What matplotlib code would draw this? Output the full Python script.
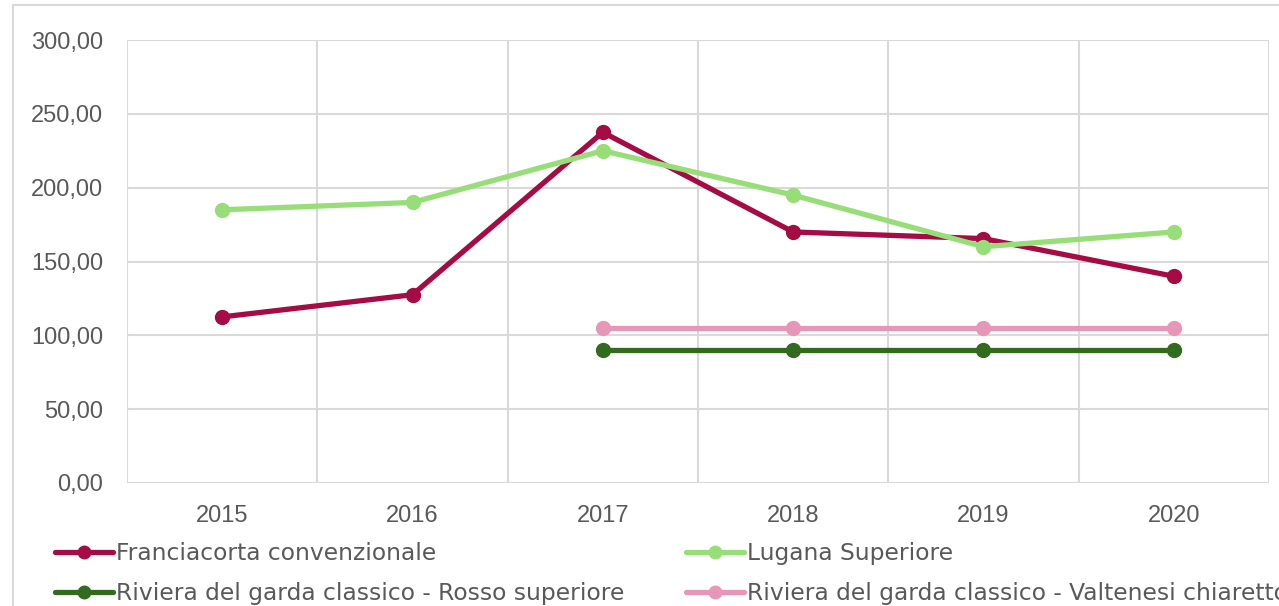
import numpy as np
import matplotlib
matplotlib.use("Agg")
import matplotlib.pyplot as plt
from matplotlib.patches import Rectangle
from matplotlib.ticker import FuncFormatter

years = ["2015", "2016", "2017", "2018", "2019", "2020"]
franciacorta = [112.5, 127.5, 237.5, 170.0, 165.5, 140.0]
lugana = [185.0, 190.0, 225.0, 195.0, 160.0, 170.0]
rosso = [np.nan, np.nan, 90.0, 90.0, 90.0, 90.0]
chiaretto = [np.nan, np.nan, 105.0, 105.0, 105.0, 105.0]

plt.rcParams['font.family'] = ['Liberation Sans', 'DejaVu Sans']
txt = '#595959'
grid = '#d9d9d9'

W, H = 1279, 606
fig = plt.figure(figsize=(W / 100, H / 100), dpi=100)
# plot area in pixels: left 127, right 1269, top 40, bottom 483
ax = fig.add_axes([127 / W, 1 - 483 / H, (1269 - 127) / W, (483 - 40) / H])

# outer chart frame (partly cut off)
fig.patches.append(Rectangle((13 / W, -0.1), 1.2, 1 - 5 / H + 0.1, transform=fig.transFigure,
                             fill=False, edgecolor=grid, lw=1.5))

x = np.arange(len(years))
series = [
    ("Franciacorta convenzionale", franciacorta, '#a50b45'),
    ("Lugana Superiore", lugana, '#97de78'),
    ("Riviera del garda classico - Rosso superiore", rosso, '#336b1e'),
    ("Riviera del garda classico - Valtenesi chiaretto", chiaretto, '#e896b8'),
]
lines = []
for name, vals, col in series:
    l, = ax.plot(x, vals, color=col, lw=3.8, marker='o', ms=10, label=name,
                 solid_capstyle='round', zorder=3)
    lines.append(l)

ax.set_xlim(-0.5, len(years) - 0.5)
ax.set_ylim(0, 300)
ax.set_yticks(np.arange(0, 301, 50))
ax.yaxis.set_major_formatter(FuncFormatter(lambda v, p: f"{v:.2f}".replace('.', ',')))
ax.set_xticks(x)
ax.set_xticklabels(years)
ax.set_xticks(np.arange(-0.5, len(years), 1), minor=True)
ax.tick_params(axis='both', which='both', length=0, labelsize=17, colors=txt)
ax.tick_params(axis='y', pad=17)
ax.tick_params(axis='x', pad=16)
ax.grid(True, axis='y', which='major', color=grid, lw=1.5)
ax.grid(True, axis='x', which='minor', color=grid, lw=1.5)
ax.grid(False, axis='x', which='major')
for s in ax.spines.values():
    s.set_visible(False)
ax.set_axisbelow(True)

leg_kw = dict(loc='upper left', frameon=False, handlelength=2.5, markerscale=0.9,
              handletextpad=0.1, labelspacing=0.72, borderaxespad=0, borderpad=0,
              labelcolor=txt, prop={'family': 'DejaVu Sans', 'size': 16.8})
fig.legend([lines[0], lines[2]], [series[0][0], series[2][0]],
           bbox_to_anchor=(55 / W, 1 - 542 / H), **leg_kw)
fig.legend([lines[1], lines[3]], [series[1][0], series[3][0]],
           bbox_to_anchor=(686 / W, 1 - 542 / H), **leg_kw)

fig.savefig("out.png", dpi=100)
